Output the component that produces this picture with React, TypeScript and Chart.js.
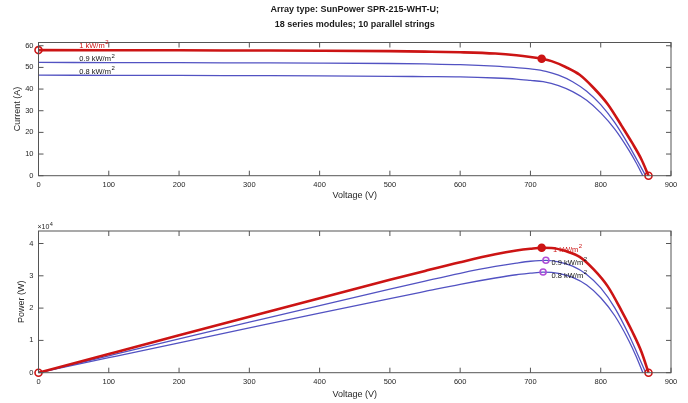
import React, { useEffect, useRef } from "react";
import { Chart, registerables } from "chart.js";
Chart.register(...registerables);

// ---------- data ----------
const V_1000 = [0, 100, 200, 300, 400, 500, 550, 600, 650, 680, 700, 716, 730, 750, 770, 790, 810, 830, 845, 858, 868];
const I_1000 = [58.0, 57.95, 57.9, 57.8, 57.7, 57.5, 57.3, 57.0, 56.4, 55.6, 54.8, 54.0, 52.9, 50.2, 46.6, 40.5, 33.0, 22.9, 15.0, 7.5, 0];
const P_1000 = [0, 5795, 11580, 17340, 23080, 28750, 31515, 34200, 36660, 37808, 38360, 38664, 38617, 37650, 35882, 31995, 26730, 19007, 12675, 6435, 0];

const V_900 = [0, 100, 200, 300, 400, 500, 550, 600, 650, 680, 700, 722, 740, 760, 780, 800, 820, 840, 852, 864];
const I_900 = [52.3, 52.25, 52.2, 52.1, 52.0, 51.8, 51.6, 51.3, 50.6, 49.9, 49.3, 48.2, 46.4, 43.4, 39.0, 32.8, 24.5, 14.0, 7.0, 0];
const P_900 = [0, 5225, 10440, 15630, 20800, 25900, 28380, 30780, 32890, 33932, 34510, 34800, 34336, 32984, 30420, 26240, 20090, 11760, 5964, 0];

const V_800 = [0, 100, 200, 300, 400, 500, 550, 600, 650, 680, 700, 718, 740, 760, 780, 800, 820, 840, 850, 860];
const I_800 = [46.4, 46.35, 46.3, 46.2, 46.1, 45.9, 45.75, 45.6, 45.1, 44.6, 44.0, 43.4, 41.6, 38.8, 34.8, 29.0, 21.5, 11.8, 6.2, 0];
const P_800 = [0, 4635, 9260, 13860, 18440, 22950, 25163, 27360, 29315, 30328, 30800, 31161, 30784, 29488, 27144, 23200, 17630, 9912, 5270, 0];

// marker points
const IV_OPEN_V = [0, 868];
const IV_OPEN_I = [58.0, 0];
const IV_MPP_V = [716];
const IV_MPP_I = [54.0];
const PV_OPEN_V = [0, 868];
const PV_OPEN_P = [0, 0];
const PV_MPP_V = [716];
const PV_MPP_P = [38664];
const PV_MPP_LOW_V = [722, 718];
const PV_MPP_LOW_P = [34800, 31161];

// ticks
const X_TICKS = [0, 100, 200, 300, 400, 500, 600, 700, 800, 900];
const I_TICKS = [0, 10, 20, 30, 40, 50, 60];
const P_TICKS = [0, 10000, 20000, 30000, 40000];
const P_TICK_LABELS = ["0", "1", "2", "3", "4"];

// texts
const TITLE_LINES = ["Array type: SunPower SPR-215-WHT-U;", "18 series modules; 10 parallel strings"];
const IRR_LABELS = ["1 kW/m", "0.9 kW/m", "0.8 kW/m"];
const IV_LABEL_V = [58, 58, 58];
const IV_LABEL_I = [59.0, 52.8, 46.9];
const PV_LABEL_V = [732, 730, 730];
const PV_LABEL_P = [37300, 33450, 29270];

const I_MAX = 61.5;
const P_MAX = 43870;

// ---------- styling ----------
const RED = "#cc1414";
const BLUE = "#5252c2";
const PURPLE = "#b04ed8";
const FONT = "'Liberation Sans', Arial, Helvetica, sans-serif";
const TXT = "#262626";
const AX = "#555555";

const pts = (xs: number[], ys: number[]) => xs.map((x, i) => ({ x, y: ys[i] }));

function drawSup(ctx: CanvasRenderingContext2D, x: number, y: number, main: string, sup: string, size: number, color: string) {
  ctx.save();
  ctx.fillStyle = color;
  ctx.textAlign = "left";
  ctx.textBaseline = "alphabetic";
  ctx.font = `${size}px ${FONT}`;
  ctx.fillText(main, x, y);
  const w = ctx.measureText(main).width;
  ctx.font = `${size * 0.8}px ${FONT}`;
  ctx.fillText(sup, x + w + 0.5, y - size * 0.5);
  ctx.restore();
}

function makeFramePlugin(cfg: {
  yTitle: string;
  yTitleX: number;
  xTitleY: number;
  title?: boolean;
  exponent?: boolean;
  labelsV: number[];
  labelsY: number[];
}) {
  return {
    id: "frame",
    afterDraw(chart: any) {
      const ctx = chart.ctx as CanvasRenderingContext2D;
      const a = chart.chartArea;
      const xs = chart.scales.x;
      const ys = chart.scales.y;
      ctx.save();
      ctx.strokeStyle = AX;
      ctx.lineWidth = 1;
      ctx.strokeRect(a.left, a.top, a.right - a.left, a.bottom - a.top);
      const TL = 5;
      ctx.beginPath();
      xs.ticks.forEach((t: any) => {
        const px = xs.getPixelForValue(t.value);
        ctx.moveTo(px, a.bottom);
        ctx.lineTo(px, a.bottom - TL);
        ctx.moveTo(px, a.top);
        ctx.lineTo(px, a.top + TL);
      });
      ys.ticks.forEach((t: any) => {
        const py = ys.getPixelForValue(t.value);
        ctx.moveTo(a.left, py);
        ctx.lineTo(a.left + TL, py);
        ctx.moveTo(a.right, py);
        ctx.lineTo(a.right - TL, py);
      });
      ctx.stroke();

      const cx = (a.left + a.right) / 2;
      ctx.fillStyle = TXT;
      ctx.font = `9px ${FONT}`;
      ctx.textAlign = "center";
      ctx.textBaseline = "middle";
      ctx.fillText("Voltage (V)", cx, cfg.xTitleY);
      ctx.save();
      ctx.translate(cfg.yTitleX, (a.top + a.bottom) / 2);
      ctx.rotate(-Math.PI / 2);
      ctx.fillText(cfg.yTitle, 0, 0);
      ctx.restore();

      if (cfg.title) {
        ctx.font = `bold 9px ${FONT}`;
        ctx.fillStyle = "#1a1a1a";
        ctx.fillText(TITLE_LINES[0], cx, 10);
        ctx.fillText(TITLE_LINES[1], cx, 25);
      }
      if (cfg.exponent) {
        drawSup(ctx, a.left - 1, a.top - 2, "\u00d710", "4", 7, TXT);
      }
      IRR_LABELS.forEach((lab, i) => {
        const px = xs.getPixelForValue(cfg.labelsV[i]);
        const py = ys.getPixelForValue(cfg.labelsY[i]);
        drawSup(ctx, px, py, lab, "2", 7.5, i === 0 ? RED : "#111111");
      });
      ctx.restore();
    },
  };
}

function axisOptions(yMax: number, yTicks: number[], yLabels: string[], padTop: number, xAxisH: number) {
  const tickFont = { family: FONT, size: 7.5 };
  return {
    responsive: false,
    animation: false as const,
    devicePixelRatio: 1,
    layout: { padding: { top: padTop, right: 17, bottom: 0, left: 0 } },
    plugins: { legend: { display: false }, tooltip: { enabled: false }, title: { display: false } },
    scales: {
      x: {
        type: "linear" as const,
        min: 0,
        max: 900,
        afterBuildTicks: (s: any) => {
          s.ticks = X_TICKS.map((v) => ({ value: v }));
        },
        ticks: {
          font: tickFont,
          color: TXT,
          padding: 5,
          maxRotation: 0,
          autoSkip: false,
          callback: (_v: any, i: number) => String(X_TICKS[i]),
        },
        grid: { display: false, drawTicks: false },
        border: { display: false },
        afterFit: (s: any) => {
          s.height = xAxisH;
        },
      },
      y: {
        type: "linear" as const,
        min: 0,
        max: yMax,
        afterBuildTicks: (s: any) => {
          s.ticks = yTicks.map((v) => ({ value: v }));
        },
        ticks: {
          font: tickFont,
          color: TXT,
          padding: 5,
          autoSkip: false,
          callback: (_v: any, i: number) => yLabels[i],
        },
        grid: { display: false, drawTicks: false },
        border: { display: false },
        afterFit: (s: any) => {
          s.width = 38.5;
        },
      },
    },
  };
}

function lineDs(xs: number[], ys: number[], color: string, width: number, order: number) {
  return {
    data: pts(xs, ys),
    showLine: true,
    borderColor: color,
    backgroundColor: color,
    borderWidth: width,
    pointRadius: 0,
    cubicInterpolationMode: "monotone" as const,
    order,
  };
}

function markerDs(xs: number[], ys: number[], color: string, fill: string, r: number, order: number) {
  return {
    data: pts(xs, ys),
    showLine: false,
    borderColor: color,
    backgroundColor: fill,
    pointBorderWidth: 1.6,
    pointRadius: r,
    pointStyle: "circle",
    clip: false as const,
    order,
  };
}

export default function App() {
  const topRef = useRef<HTMLCanvasElement>(null);
  const botRef = useRef<HTMLCanvasElement>(null);

  useEffect(() => {
    const top = new Chart(topRef.current!, {
      type: "scatter",
      data: {
        datasets: [
          markerDs(IV_OPEN_V, IV_OPEN_I, RED, "rgba(255,255,255,0)", 3.5, 0),
          markerDs(IV_MPP_V, IV_MPP_I, RED, RED, 3.5, 0),
          lineDs(V_1000, I_1000, RED, 2.6, 1),
          lineDs(V_900, I_900, BLUE, 1.3, 2),
          lineDs(V_800, I_800, BLUE, 1.3, 2),
        ] as any,
      },
      options: axisOptions(I_MAX, I_TICKS, I_TICKS.map(String), 42.5, 29.3) as any,
      plugins: [
        makeFramePlugin({
          yTitle: "Current (A)",
          yTitleX: 18,
          xTitleY: 196,
          title: true,
          labelsV: IV_LABEL_V,
          labelsY: IV_LABEL_I,
        }),
      ],
    });
    const bot = new Chart(botRef.current!, {
      type: "scatter",
      data: {
        datasets: [
          markerDs(PV_OPEN_V, PV_OPEN_P, RED, "rgba(255,255,255,0)", 3.5, 0),
          markerDs(PV_MPP_V, PV_MPP_P, RED, RED, 3.5, 0),
          markerDs(PV_MPP_LOW_V, PV_MPP_LOW_P, PURPLE, "rgba(255,255,255,0)", 3, 0),
          lineDs(V_1000, P_1000, RED, 2.6, 1),
          lineDs(V_900, P_900, BLUE, 1.3, 2),
          lineDs(V_800, P_800, BLUE, 1.3, 2),
        ] as any,
      },
      options: axisOptions(P_MAX, P_TICKS, P_TICK_LABELS, 26, 30.3) as any,
      plugins: [
        makeFramePlugin({
          yTitle: "Power (W)",
          yTitleX: 22,
          xTitleY: 190,
          exponent: true,
          labelsV: PV_LABEL_V,
          labelsY: PV_LABEL_P,
        }),
      ],
    });
    return () => {
      top.destroy();
      bot.destroy();
    };
  }, []);

  return (
    <div style={{ position: "absolute", left: 0, top: 0, width: 688, height: 403, background: "#ffffff" }}>
      <canvas ref={topRef} width={688} height={205} style={{ position: "absolute", left: 0, top: 0 }} />
      <canvas ref={botRef} width={688} height={198} style={{ position: "absolute", left: 0, top: 205 }} />
    </div>
  );
}
